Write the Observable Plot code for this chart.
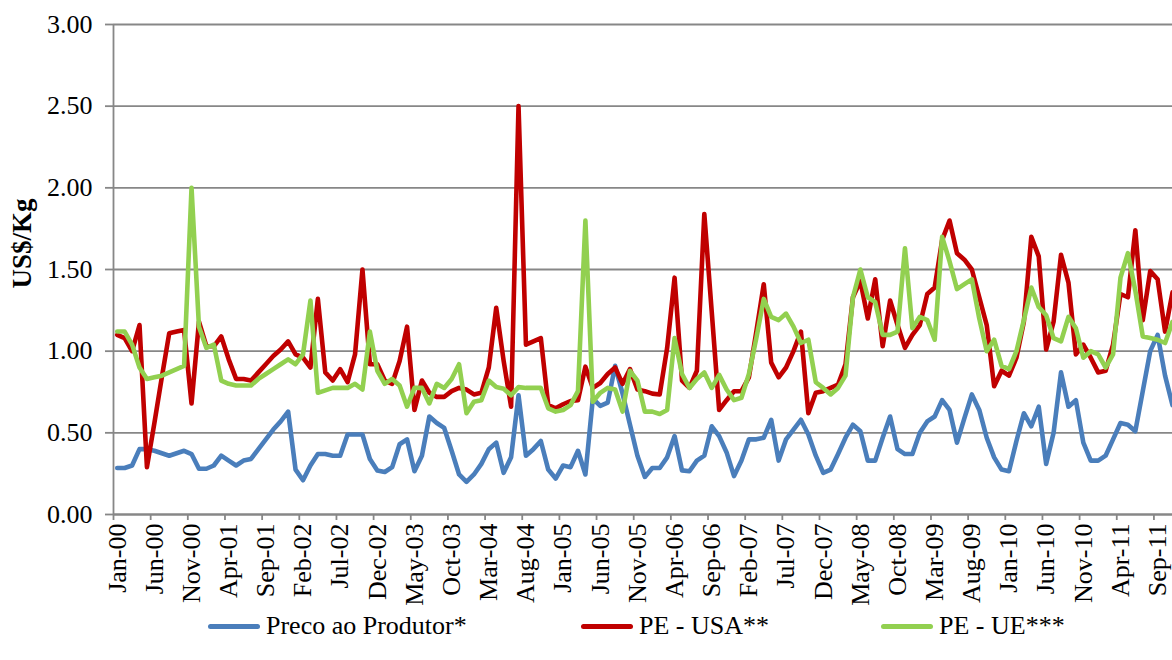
<!DOCTYPE html>
<html><head><meta charset="utf-8">
<script src="https://cdn.jsdelivr.net/npm/d3@7"></script>
<script src="https://cdn.jsdelivr.net/npm/@observablehq/plot@0.6"></script>
<style>
body{margin:0;background:#fff;font-family:'Liberation Serif','Times New Roman',Times,serif;}
#wrap{position:relative;width:1172px;height:660px;overflow:hidden;background:#fff;}
#legend{position:absolute;top:608px;left:0;width:1172px;height:36px;font-size:26px;color:#000;}
.item{position:absolute;top:0;height:36px;display:flex;align-items:center;white-space:nowrap;}
.sw{width:52px;height:5px;border-radius:2.5px;margin-right:6px;}
</style></head><body>
<div id="wrap"><div id="chart"></div><div id="legend"></div></div>
<script>
const tickLabels = ["Jan-00","Jun-00","Nov-00","Apr-01","Sep-01","Feb-02","Jul-02","Dec-02","May-03","Oct-03",
  "Mar-04","Aug-04","Jan-05","Jun-05","Nov-05","Apr-06","Sep-06","Feb-07","Jul-07","Dec-07",
  "May-08","Oct-08","Mar-09","Aug-09","Jan-10","Jun-10","Nov-10","Apr-11","Sep-11"];
const yTicks = [0, 0.5, 1, 1.5, 2, 2.5, 3];
const yTitle = "US$/Kg";
const seriesNames = ["Preco ao Produtor*", "PE - USA**", "PE - UE***"];
const seriesColors = ["#4a7ebb", "#c00000", "#92d050"];

const preco = [
  0.285,0.285,0.30,0.40,0.40,0.39,0.375,0.36,0.375,0.39,
  0.37,0.28,0.28,0.30,0.36,0.33,0.30,0.33,0.34,0.40,
  0.46,0.52,0.57,0.63,0.275,0.21,0.30,0.37,0.37,0.36,
  0.36,0.49,0.49,0.49,0.34,0.27,0.26,0.29,0.43,0.46,
  0.265,0.36,0.60,0.56,0.53,0.39,0.245,0.20,0.245,0.31,
  0.40,0.44,0.255,0.35,0.73,0.36,0.40,0.45,0.275,0.22,
  0.30,0.29,0.39,0.245,0.71,0.665,0.685,0.91,0.74,0.55,
  0.36,0.23,0.285,0.285,0.35,0.48,0.27,0.265,0.33,0.36,
  0.54,0.48,0.38,0.235,0.33,0.46,0.46,0.47,0.58,0.33,
  0.46,0.52,0.58,0.49,0.36,0.255,0.275,0.37,0.47,0.55,
  0.51,0.33,0.33,0.47,0.60,0.40,0.37,0.37,0.50,0.57,
  0.60,0.70,0.64,0.44,0.59,0.735,0.64,0.47,0.35,0.275,
  0.265,0.45,0.62,0.54,0.66,0.31,0.50,0.87,0.66,0.70,
  0.44,0.33,0.33,0.36,0.46,0.56,0.55,0.51,0.755,1.00,
  1.10,0.85,0.67];
const peUSA = [
  1.10,1.08,1.00,1.16,0.29,0.56,0.84,1.11,1.12,1.13,
  0.68,1.18,1.03,1.03,1.09,0.95,0.83,0.83,0.82,0.87,
  0.92,0.97,1.01,1.06,0.98,0.96,0.90,1.32,0.87,0.82,
  0.89,0.81,0.98,1.50,0.92,0.92,0.82,0.80,0.94,1.15,
  0.64,0.82,0.745,0.72,0.72,0.755,0.775,0.765,0.735,0.745,
  0.90,1.265,0.94,0.66,2.50,1.04,1.06,1.08,0.67,0.65,
  0.675,0.695,0.70,0.905,0.775,0.805,0.86,0.90,0.80,0.89,
  0.765,0.755,0.74,0.735,1.02,1.45,0.82,0.775,0.88,1.84,
  1.24,0.64,0.70,0.755,0.755,0.84,1.12,1.41,0.93,0.84,
  0.90,1.00,1.12,0.62,0.745,0.755,0.775,0.795,0.92,1.33,
  1.43,1.20,1.44,1.03,1.31,1.16,1.02,1.10,1.16,1.35,
  1.39,1.68,1.80,1.60,1.56,1.50,1.33,1.16,0.785,0.88,
  0.85,0.96,1.18,1.70,1.58,1.01,1.18,1.59,1.42,0.98,
  1.04,0.96,0.87,0.88,1.04,1.35,1.33,1.74,1.19,1.49,
  1.44,1.12,1.36];
const peUE = [
  1.12,1.12,1.04,0.90,0.83,0.84,0.85,0.87,0.89,0.91,
  2.00,1.15,1.02,1.04,0.82,0.80,0.79,0.79,0.79,0.83,
  0.86,0.89,0.92,0.95,0.92,0.98,1.31,0.745,0.76,0.775,
  0.775,0.775,0.80,0.765,1.12,0.88,0.80,0.83,0.79,0.66,
  0.775,0.775,0.68,0.80,0.775,0.83,0.92,0.62,0.69,0.70,
  0.82,0.78,0.77,0.73,0.78,0.775,0.775,0.775,0.65,0.63,
  0.64,0.67,0.755,1.80,0.69,0.745,0.775,0.765,0.63,0.88,
  0.82,0.63,0.63,0.615,0.64,1.08,0.86,0.775,0.83,0.87,
  0.775,0.855,0.765,0.70,0.715,0.86,1.08,1.32,1.21,1.19,
  1.23,1.15,1.05,1.07,0.81,0.775,0.735,0.775,0.85,1.33,
  1.50,1.33,1.30,1.10,1.10,1.12,1.63,1.14,1.21,1.19,
  1.07,1.70,1.55,1.38,1.41,1.44,1.20,1.00,1.07,0.91,
  0.89,1.00,1.19,1.39,1.27,1.22,1.08,1.06,1.21,1.14,
  0.96,1.00,0.98,0.90,0.98,1.45,1.60,1.37,1.09,1.08,
  1.07,1.05,1.18];

const labelIdx = tickLabels.map((_, k) => k * 5);
const boundaries = labelIdx.map(v => v - 0.5);
const gray = "#878787";
const font = "'Liberation Serif', 'Times New Roman', Times, serif";

const seriesLine = (arr, color) =>
  Plot.line(arr, {x: (d, i) => i, y: d => d, stroke: color, strokeWidth: 4.6,
                  strokeLinejoin: "round", strokeLinecap: "round"});

const chart = Plot.plot({
  width: 1172, height: 600,
  marginLeft: 113, marginRight: 0, marginTop: 24, marginBottom: 86,
  style: {fontFamily: font, fontSize: "26px", color: "#000", background: "#fff", overflow: "visible"},
  x: {type: "linear", domain: [-0.5, 142]},
  y: {domain: [0, 3]},
  marks: [
    Plot.gridY(yTicks, {stroke: gray, strokeOpacity: 1, strokeWidth: 1.8}),
    Plot.axisY(yTicks, {tickFormat: d => d.toFixed(2), tickSize: 8, tickPadding: 13, stroke: gray,
      strokeWidth: 1.8, fontSize: 26, label: null}),
    Plot.text([yTitle], {frameAnchor: "left", textAnchor: "middle", dx: -91, dy: -26, rotate: -90,
      fontWeight: "bold", fontSize: 27, fill: "#000"}),
    Plot.ruleX([-0.5], {stroke: gray, strokeWidth: 1.8}),
    Plot.axisX(boundaries, {tickFormat: () => "", tickSize: 6, stroke: gray, strokeWidth: 1.8, label: null}),
    Plot.axisX(labelIdx, {tickFormat: d => tickLabels[d / 5], tickSize: 0, tickPadding: 9, tickRotate: -90,
      fontSize: 26, label: null}),
    Plot.ruleY([0], {stroke: gray, strokeWidth: 1.8}),
    seriesLine(preco, seriesColors[0]),
    seriesLine(peUSA, seriesColors[1]),
    seriesLine(peUE, seriesColors[2])
  ]
});
document.getElementById("chart").appendChild(chart);

const legendPos = [208, 581, 881];
const legend = d3.select("#legend");
seriesNames.forEach((name, k) => {
  const it = legend.append("div").attr("class", "item").style("left", legendPos[k] + "px");
  it.append("div").attr("class", "sw").style("background", seriesColors[k]);
  it.append("span").text(name);
});
</script>
</body></html>
